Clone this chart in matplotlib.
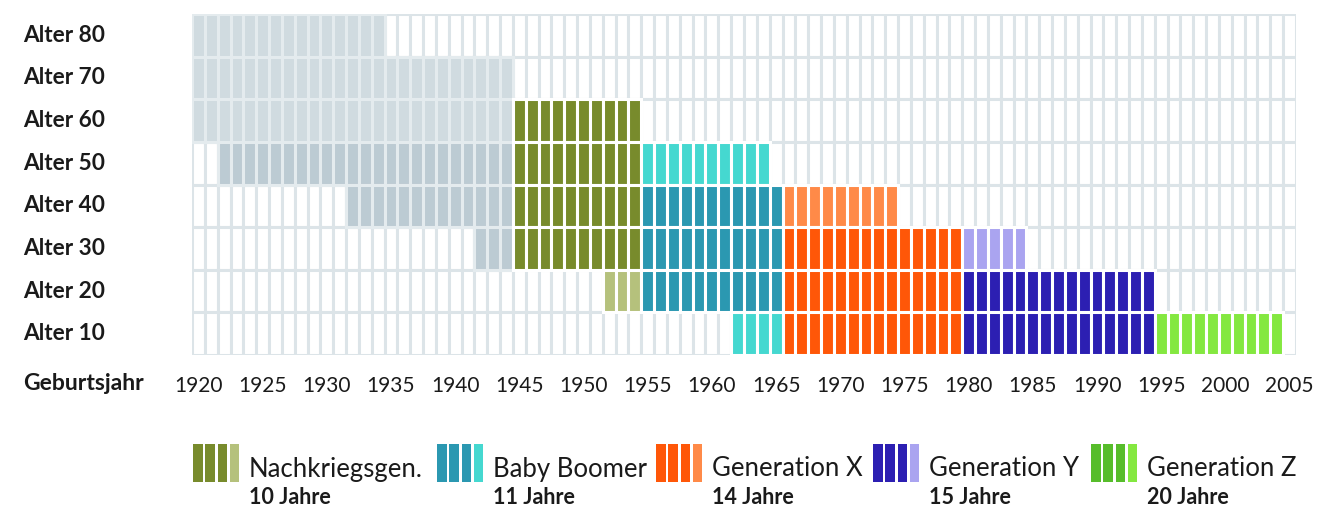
import matplotlib.pyplot as plt
from matplotlib.transforms import blended_transform_factory

plt.rcParams['font.family'] = ['Lato', 'DejaVu Sans']

# rows of the chart (top to bottom) and the birth years shown in each row
ages = [80, 70, 60, 50, 40, 30, 20, 10]
row_first = [1920, 1920, 1920, 1922, 1932, 1942, 1952, 1962]
row_last = [1934, 1944, 1954, 1964, 1974, 1984, 1994, 2004]

# generations: birth years and length
gen_names = ["Nachkriegsgen.", "Baby Boomer", "Generation X", "Generation Y", "Generation Z"]
gen_first = [1945, 1955, 1966, 1980, 1995]
gen_last = [1954, 1965, 1979, 1994, 2014]
gen_years = [10, 11, 14, 15, 20]

# dark = whole generation reached that age, light = only part of it
gen_dark = ["#788b2c", "#2b98b1", "#ff5708", "#2c1fb2", "#57bd2b"]
gen_light = ["#b5c17c", "#45d8d0", "#ff8a48", "#aaa4f0", "#84e840"]
grey_light = "#d0dbe0"   # older rows (80, 70, 60)
grey_dark = "#bccbd3"    # rows 50, 40, 30

year_min, year_max = 1920, 2005
tick_years = list(range(1920, 2006, 5))

fig = plt.figure(figsize=(13.37, 5.08), dpi=100)
ax = fig.add_axes([192 / 1337, 1 - 355 / 508, (1296 - 192) / 1337, (355 - 14) / 508])
ax.set_xlim(year_min, year_max + 1)
ax.set_ylim(0, len(ages))

# empty grid first
xs, ys = [], []
for i in range(len(ages)):
    for yr in range(year_min, year_max + 1):
        xs.append(yr)
        ys.append(len(ages) - 1 - i)
ax.bar(xs, 1, width=1, bottom=ys, align='edge', color='white',
       edgecolor='#dce4e8', linewidth=2.2)

# filled cells
cx, cy, cc, ce = [], [], [], []
for i, age in enumerate(ages):
    for yr in range(row_first[i], row_last[i] + 1):
        color = None
        edge = 'white'
        for g in range(len(gen_names)):
            if gen_first[g] <= yr <= gen_last[g]:
                partial = gen_first[g] < row_first[i] or gen_last[g] > row_last[i]
                color = gen_light[g] if partial else gen_dark[g]
        if color is None:
            color = grey_light if age >= 60 else grey_dark
            edge = '#e4ebee'
        cx.append(yr)
        cy.append(len(ages) - 1 - i)
        cc.append(color)
        ce.append(edge)
ax.bar(cx, 1, width=1, bottom=cy, align='edge', color=cc,
       edgecolor=ce, linewidth=2.2)

for s in ax.spines.values():
    s.set_visible(False)
ax.set_yticks([])
ax.set_xticks([y + 0.5 for y in tick_years])
ax.set_xticklabels([str(y) for y in tick_years], fontsize=15, color='#1a1a1a')
ax.tick_params(axis='x', length=0, pad=15)

trans = blended_transform_factory(fig.transFigure, ax.transData)
for i, age in enumerate(ages):
    ax.text(23 / 1337, len(ages) - 0.5 - i, f"Alter {age}", transform=trans,
            ha='left', va='center', fontsize=16.3, fontweight='bold', color='#1a1a1a')
fig.text(23 / 1337, 1 - 384 / 508, "Geburtsjahr", ha='left', va='center',
         fontsize=16.5, fontweight='bold', color='#1a1a1a')

# legend, drawn in pixel coordinates
lg = fig.add_axes([0, 0, 1, 1])
lg.set_xlim(0, 1337)
lg.set_ylim(508, 0)
lg.axis('off')
lg.patch.set_alpha(0)
leg_x = [193, 437, 656, 873, 1091]
for g in range(len(gen_names)):
    sx = [leg_x[g] + k * 12.3 for k in range(4)]
    sc = [gen_dark[g]] * 3 + [gen_light[g]]
    lg.bar(sx, 38, width=9.5, bottom=444, align='edge', color=sc, linewidth=0)
    lg.text(leg_x[g] + 56, 469, gen_names[g], ha='left', va='center',
            fontsize=18.5, color='#1a1a1a')
    lg.text(leg_x[g] + 56, 498, f"{gen_years[g]} Jahre", ha='left', va='center',
            fontsize=15.5, fontweight='bold', color='#1a1a1a')

fig.savefig("out.png", dpi=100)
